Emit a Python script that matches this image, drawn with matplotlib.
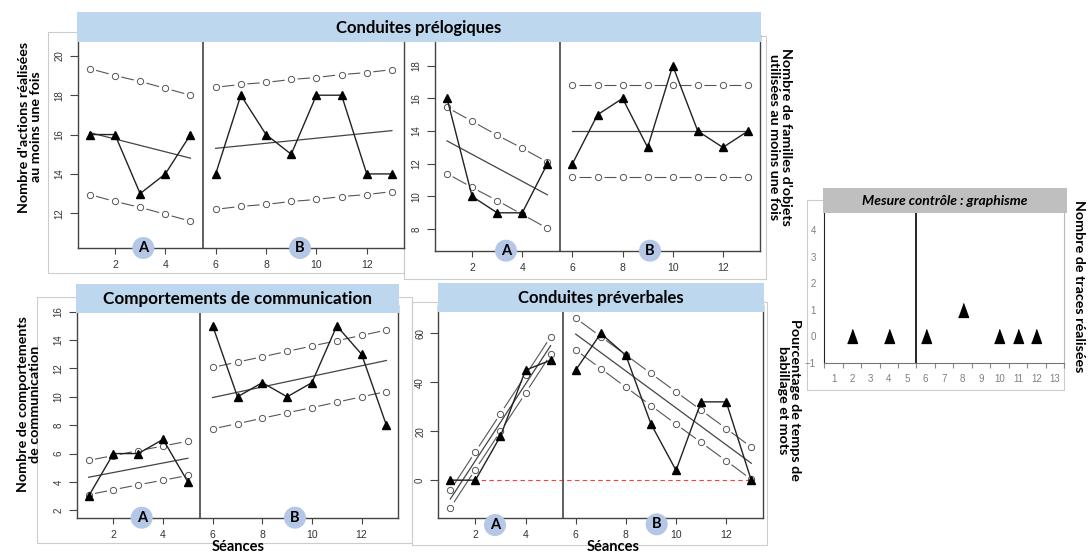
import numpy as np
import matplotlib.pyplot as plt
from matplotlib.patches import Rectangle, Ellipse

# DATA
sessions_a = [1, 2, 3, 4, 5]
sessions_b = [6, 7, 8, 9, 10, 11, 12, 13]
sessions_all = list(range(1, 14))

# conduites prélogiques - actions
act_a = [16, 16, 13, 14, 16]
act_b = [14, 18, 16, 15, 18, 18, 14, 14]
act_a_up = [19.35, 19.0, 18.7, 18.35, 18.0]
act_a_lo = [12.95, 12.6, 12.3, 11.95, 11.6]
act_a_fit = [16.1, 14.8]
act_b_up = [18.4, 18.55, 18.65, 18.8, 18.9, 19.05, 19.15, 19.3]
act_b_lo = [12.2, 12.35, 12.45, 12.6, 12.7, 12.85, 12.95, 13.1]
act_b_fit = [15.3, 16.2]

# conduites prélogiques - familles d'objets
obj_a = [16, 10, 9, 9, 12]
obj_b = [12, 15, 16, 13, 18, 14, 13, 14]
obj_a_up = [15.45, 14.6, 13.75, 12.95, 12.1]
obj_a_lo = [11.4, 10.55, 9.75, 8.9, 8.05]
obj_a_fit = [13.4, 10.1]
obj_b_up = [16.8, 16.8, 16.8, 16.8, 16.8, 16.8, 16.8, 16.8]
obj_b_lo = [11.2, 11.2, 11.2, 11.2, 11.2, 11.2, 11.2, 11.2]
obj_b_fit = [14.0, 14.0]

# comportements de communication
com_a = [3, 6, 6, 7, 4]
com_b = [15, 10, 11, 10, 11, 15, 13, 8]
com_a_up = [5.52, 5.86, 6.2, 6.53, 6.87]
com_a_lo = [3.1, 3.45, 3.8, 4.12, 4.46]
com_a_fit = [4.33, 5.67]
com_b_up = [12.07, 12.45, 12.82, 13.2, 13.58, 13.95, 14.33, 14.7]
com_b_lo = [7.74, 8.11, 8.49, 8.87, 9.24, 9.62, 10.0, 10.37]
com_b_fit = [9.95, 12.56]

# conduites préverbales
verb_a = [0, 0, 18, 45, 49]
verb_b = [45, 60, 51, 23, 4, 32, 32, 0]
verb_a_up = [-4.1, 11.6, 27.2, 42.9, 58.6]
verb_a_lo = [-11.3, 4.35, 20.0, 35.6, 51.4]
verb_a_fit = [-7.7, 55.0]
verb_b_up = [66.2, 58.7, 51.2, 43.6, 36.1, 28.6, 21.1, 13.5]
verb_b_lo = [53.2, 45.6, 38.0, 30.5, 22.9, 15.4, 7.9, 0.3]
verb_b_fit = [59.7, 6.9]

# mesure contrôle : graphisme
graph_x = [2, 4, 6, 8, 10, 11, 12]
graph_y = [0, 0, 0, 1, 0, 0, 0]

# FIGURE (pixel layout helpers, y measured from top)
W, H = 1088, 555
fig = plt.figure(figsize=(W / 100, H / 100), dpi=100)

TICK_FONT = ['Liberation Sans', 'DejaVu Sans']
EXCEL_FONT = ['Liberation Sans Narrow', 'Liberation Sans', 'DejaVu Sans']
LABEL_FONT = ['Lato', 'DejaVu Sans']
BAR_BLUE = '#bdd7ee'
DOT_BLUE = '#b4c7e7'


def box(x0, y0, x1, y1):
    return [x0 / W, 1 - y1 / H, (x1 - x0) / W, (y1 - y0) / H]


def rect(x0, y0, x1, y1, **kw):
    r = Rectangle((x0 / W, 1 - y1 / H), (x1 - x0) / W, (y1 - y0) / H,
                  transform=fig.transFigure, **kw)
    fig.add_artist(r)


def ftext(x, y, s, **kw):
    fig.text(x / W, 1 - y / H, s, ha='center', va='center', **kw)


def type_b(ax, xs, ys, gap=6.5):
    # R type="b": segments stop short of the open circles
    pts = ax.transData.transform(np.column_stack([xs, ys]))
    inv = ax.transData.inverted()
    for p0, p1 in zip(pts[:-1], pts[1:]):
        d = p1 - p0
        n = np.hypot(*d)
        if n <= 2 * gap:
            continue
        u = d / n
        seg = inv.transform([p0 + u * gap, p1 - u * gap])
        ax.plot(seg[:, 0], seg[:, 1], color='#555555', lw=0.8,
                solid_capstyle='butt')
    ax.plot(xs, ys, 'o', mfc='white', mec='#555555', mew=0.7, ms=4.5,
            ls='none')


def r_panel(px, ylim, yticks, a, b, a_up, a_lo, a_fit, b_up, b_lo, b_fit):
    ax = fig.add_axes(box(*px))
    ax.set_xlim(0.52, 13.48)
    ax.set_ylim(*ylim)
    ax.spines['top'].set_visible(False)
    for s in ['left', 'bottom', 'right']:
        ax.spines[s].set_color('#444444')
        ax.spines[s].set_linewidth(1.0)
    ax.set_xticks([2, 4, 6, 8, 10, 12])
    ax.set_yticks(yticks)
    ax.tick_params(axis='x', length=4.2, width=0.8, color='#444444',
                   labelsize=7.5, labelcolor='#333333', pad=4.5)
    ax.tick_params(axis='y', length=5.5, width=0.8, color='#444444',
                   labelsize=7, labelcolor='#333333', pad=4,
                   labelrotation=90)
    for lab in ax.get_xticklabels() + ax.get_yticklabels():
        lab.set_family(TICK_FONT)
    for lab in ax.get_yticklabels():
        lab.set_va('center')
    ax.axvline(5.5, color='#444444', lw=1.2)

    type_b(ax, sessions_a, a_up)
    type_b(ax, sessions_a, a_lo)
    type_b(ax, sessions_b, b_up)
    type_b(ax, sessions_b, b_lo)
    ax.plot([sessions_a[0], sessions_a[-1]], a_fit, color='#444444', lw=0.9)
    ax.plot([sessions_b[0], sessions_b[-1]], b_fit, color='#444444', lw=0.9)
    ax.plot(sessions_a, a, '-^', color='#222222', lw=1.0, ms=5.5,
            mfc='black', mec='black')
    ax.plot(sessions_b, b, '-^', color='#222222', lw=1.0, ms=5.5,
            mfc='black', mec='black')
    return ax


def phase_dot(x, y, letter):
    e = Ellipse((x / W, 1 - y / H), 22 / W, 22 / H, transform=fig.transFigure,
                facecolor=DOT_BLUE, edgecolor='none', zorder=2)
    fig.add_artist(e)
    ftext(x, y, letter, fontsize=10.5, fontweight='bold', family=LABEL_FONT,
          zorder=4)


# light outlines of the pasted images
for (x0, y0, x1, y1) in [(47.7, 32, 404, 273.3), (404, 36, 765.7, 279.3),
                         (36.7, 296.7, 411.7, 543.3), (411.7, 302, 766.7, 545),
                         (806.7, 200, 1064, 390)]:
    rect(x0, y0, x1, y1, facecolor='none', edgecolor='#cccccc', lw=0.8,
         zorder=-1)

# PANELS
ax1 = r_panel((77.7, 35, 404, 247.7), (10.25, 21.06), [12, 14, 16, 18, 20],
              act_a, act_b, act_a_up, act_a_lo, act_a_fit,
              act_b_up, act_b_lo, act_b_fit)
ax2 = r_panel((435, 35, 760, 250.7), (6.68, 19.88), [8, 10, 12, 14, 16, 18],
              obj_a, obj_b, obj_a_up, obj_a_lo, obj_a_fit,
              obj_b_up, obj_b_lo, obj_b_fit)
ax3 = r_panel((76.7, 305, 398.3, 517.7), (1.48, 16.47),
              [2, 4, 6, 8, 10, 12, 14, 16],
              com_a, com_b, com_a_up, com_a_lo, com_a_fit,
              com_b_up, com_b_lo, com_b_fit)
ax4 = r_panel((438.3, 305, 763.3, 518.3), (-15.6, 71.6), [0, 20, 40, 60],
              verb_a, verb_b, verb_a_up, verb_a_lo, verb_a_fit,
              verb_b_up, verb_b_lo, verb_b_fit)
ax4.plot([sessions_all[0], sessions_all[-1]], [0, 0], color='#ff3b3b',
         lw=0.8, ls=(0, (4, 3)), zorder=1.5)

# control measure (Excel style)
ax5 = fig.add_axes(box(824.3, 205, 1064, 362.7))
ax5.set_xlim(0.5, 13.5)
ax5.set_ylim(-1, 4.94)
ax5.spines['top'].set_visible(False)
ax5.spines['left'].set_color('#222222')
ax5.spines['bottom'].set_color('#777777')
ax5.spines['right'].set_color('#bbbbbb')
ax5.set_xticks(sessions_all)
ax5.set_xticks(np.arange(0.5, 14, 1), minor=True)
ax5.set_yticks([-1, 0, 1, 2, 3, 4])
ax5.tick_params(axis='x', which='major', length=0, labelsize=7,
                labelcolor='#7f7f7f', pad=8)
ax5.tick_params(axis='x', which='minor', length=3.5, color='#888888',
                width=0.8)
ax5.tick_params(axis='y', length=0, labelsize=7, labelcolor='#7f7f7f',
                pad=6)
for lab in ax5.get_xticklabels() + ax5.get_yticklabels():
    lab.set_family(EXCEL_FONT)
ax5.axvline(5.5, color='black', lw=1.2)
tri = [(-0.36, -0.5), (0.36, -0.5), (0, 0.5)]
ax5.plot(graph_x, graph_y, ls='none', marker=tri, ms=10, color='black')

# TITLE BARS
rect(77.2, 12.3, 761, 41.7, facecolor=BAR_BLUE, edgecolor='none', zorder=2)
ftext(419, 27.5, 'Conduites prélogiques', fontsize=12, fontweight='bold',
      family=LABEL_FONT)
rect(76.2, 284, 398.8, 313.3, facecolor=BAR_BLUE, edgecolor='none', zorder=2)
ftext(237.5, 299, 'Comportements de communication', fontsize=12.3,
      fontweight='bold', family=LABEL_FONT)
rect(437.8, 283.3, 763.8, 312.3, facecolor=BAR_BLUE, edgecolor='none',
     zorder=2)
ftext(601, 298, 'Conduites préverbales', fontsize=12, fontweight='bold',
      family=LABEL_FONT)
rect(823.3, 188.3, 1067.3, 213.3, facecolor='#bfbfbf', edgecolor='none',
     zorder=2)
ftext(945, 201, 'Mesure contrôle : graphisme', fontsize=10,
      fontweight='bold', style='italic', family=LABEL_FONT)

# AXIS LABELS
ylab = dict(fontsize=10.3, fontweight='bold', family=LABEL_FONT,
            linespacing=1.05)
ftext(30, 127, "Nombre d'actions réalisées\nau moins une fois", rotation=90,
      **ylab)
ftext(780, 137, "Nombre de familles d'objets\nutilisées au moins une fois",
      rotation=-90, **ylab)
ftext(29, 404, 'Nombre de comportements\nde communication', rotation=90,
      **ylab)
ftext(789, 400, 'Pourcentage de temps de\nbabillage et mots', rotation=-90,
      **ylab)
ftext(1079, 286, 'Nombre de traces réalisées', rotation=-90, **ylab)
ftext(238, 547, 'Séances', fontsize=10.5, fontweight='bold',
      family=LABEL_FONT)
ftext(613, 547, 'Séances', fontsize=10.5, fontweight='bold',
      family=LABEL_FONT)

# PHASE MARKERS
phase_dot(143.3, 248, 'A')
phase_dot(300, 248, 'B')
phase_dot(506, 250.7, 'A')
phase_dot(650, 250.7, 'B')
phase_dot(141.7, 517.7, 'A')
phase_dot(295, 517.7, 'B')
phase_dot(495, 525, 'A')
phase_dot(656.7, 524.3, 'B')

fig.savefig('out.png', dpi=100)
